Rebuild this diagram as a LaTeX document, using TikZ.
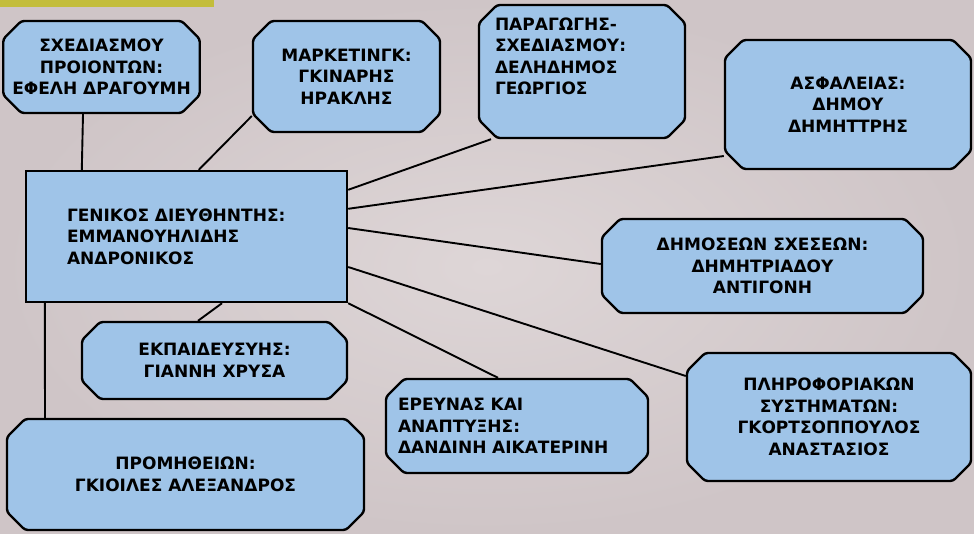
\documentclass[tikz,border=0pt]{standalone}
\usepackage{fontspec}
\setmainfont{DejaVu Sans}
\usetikzlibrary{shapes.misc}
\definecolor{bgc}{HTML}{DED6D7}
\definecolor{bgdark}{HTML}{CFC5C7}
\definecolor{boxblue}{HTML}{9FC4E8}
\definecolor{barc}{HTML}{C3BD3B}
\begin{document}
\begin{tikzpicture}[x=1pt,y=-1pt,
  boxbase/.style={draw=black, line width=2.4pt, fill=boxblue, inner sep=0pt,
    align=center, font=\fontsize{17}{21.5}\selectfont\bfseries},
  box/.style={boxbase, chamfered rectangle, chamfered rectangle sep=9pt, rounded corners=3pt},
  plainbox/.style={boxbase, rectangle},
  link/.style={line width=1.9pt, draw=black}]
\useasboundingbox (0,0) rectangle (974,533);
\shade[inner color=bgc, outer color=bgdark] (0,0) rectangle (974,533);
\fill[barc] (0,0) rectangle (214,7);

\node[box, minimum width=187pt, minimum height=92pt] (b1) at (101.5,67)
  {ΣΧΕΔΙΑΣΜΟΥ\\ΠΡΟΙΟΝΤΩΝ:\\ΕΦΕΛΗ ΔΡΑΓΟΥΜΗ};
\node[box, minimum width=187pt, minimum height=111pt] (b2) at (346.5,76.5)
  {ΜΑΡΚΕΤΙΝΓΚ:\\ΓΚΙΝΑΡΗΣ\\ΗΡΑΚΛΗΣ};
\node[box, minimum width=206pt, minimum height=133pt, text width=174pt, align=left] (b3) at (582,71.5)
  {ΠΑΡΑΓΩΓΗΣ-\\ΣΧΕΔΙΑΣΜΟΥ:\\ΔΕΛΗΔΗΜΟΣ\\ΓΕΩΡΓΙΟΣ\\[9pt]\mbox{}};
\node[box, minimum width=246pt, minimum height=129pt] (b4) at (848,104.5)
  {ΑΣΦΑΛΕΙΑΣ:\\ΔΗΜΟΥ\\ΔΗΜΗΤΤΡΗΣ};
\node[plainbox, minimum width=321pt, minimum height=131pt, text width=239pt, align=left] (b5) at (186.5,236.5)
  {ΓΕΝΙΚΟΣ ΔΙΕΥΘΗΝΤΗΣ:\\ΕΜΜΑΝΟΥΗΛΙΔΗΣ\\ΑΝΔΡΟΝΙΚΟΣ};
\node[box, minimum width=321pt, minimum height=94pt] (b6) at (762.5,266)
  {ΔΗΜΟΣΕΩΝ ΣΧΕΣΕΩΝ:\\ΔΗΜΗΤΡΙΑΔΟΥ\\ΑΝΤΙΓΟΝΗ};
\node[box, minimum width=265pt, minimum height=77pt] (b7) at (214.5,360.5)
  {ΕΚΠΑΙΔΕΥΣΥΗΣ:\\ΓΙΑΝΝΗ ΧΡΥΣΑ};
\node[box, minimum width=357pt, minimum height=111pt] (b8) at (185.5,474.5)
  {ΠΡΟΜΗΘΕΙΩΝ:\\ΓΚΙΟΙΛΕΣ ΑΛΕΞΑΝΔΡΟΣ};
\node[box, minimum width=262pt, minimum height=94pt, text width=238pt, align=left] (b9) at (517,426)
  {ΕΡΕΥΝΑΣ ΚΑΙ\\ΑΝΑΠΤΥΞΗΣ:\\ΔΑΝΔΙΝΗ ΑΙΚΑΤΕΡΙΝΗ};
\node[box, minimum width=284pt, minimum height=128pt] (b10) at (829,417)
  {ΠΛΗΡΟΦΟΡΙΑΚΩΝ\\ΣΥΣΤΗΜΑΤΩΝ:\\ΓΚΟΡΤΣΟΠΠΟΥΛΟΣ\\ΑΝΑΣΤΑΣΙΟΣ};

\draw[link] ([xshift=-18.5pt]b1.south) -- ([xshift=57pt]b5.north west);
\draw[link] ([yshift=-39.5pt]b2.west) -- ([xshift=174pt]b5.north west);
\draw[link] ([xshift=-91pt]b3.south) -- ([yshift=-20pt]b5.north east);
\draw[link] ([yshift=-51.5pt]b4.west) -- ([yshift=-39pt]b5.north east);
\draw[link] ([yshift=2pt]b6.west) -- ([yshift=8.5pt]b5.east);
\draw[link] ([yshift=41pt]b10.west) -- ([yshift=-30.5pt]b5.east);
\draw[link] ([xshift=-19pt]b9.north) -- (b5.south east);
\draw[link] ([xshift=-16.5pt]b7.north) -- ([xshift=35.5pt]b5.south);
\draw[link] ([xshift=-140.5pt]b8.north) -- ([xshift=20pt]b5.south west);
\end{tikzpicture}
\end{document}
